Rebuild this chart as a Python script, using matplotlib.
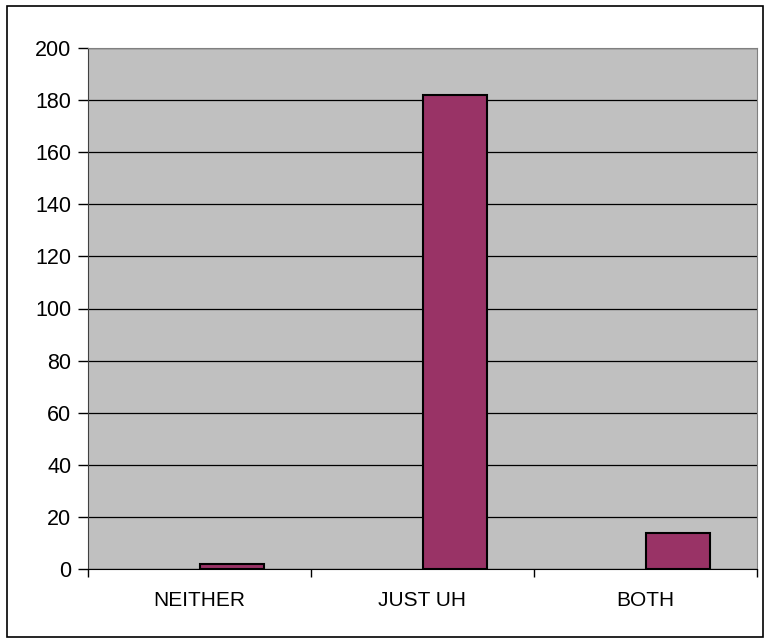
import matplotlib
matplotlib.use("Agg")
import matplotlib.pyplot as plt
from matplotlib.patches import Rectangle
from matplotlib.ticker import MultipleLocator, FixedLocator

categories = ["NEITHER", "JUST UH", "BOTH"]
counts = [2, 182, 14]

plt.rcParams['font.family'] = ['Liberation Sans', 'DejaVu Sans']

fig = plt.figure(figsize=(7.65, 6.43), dpi=100)
ax = fig.add_axes([88/765, 74/643, 669/765, 521/643])

# outer chart frame
fig.patches.append(Rectangle((7/765, 6/643), 756/765, 631/643, transform=fig.transFigure,
                             fill=False, edgecolor='black', linewidth=1.2))

ax.set_facecolor('#C0C0C0')
x = range(len(categories))
ax.bar(x, counts, width=0.287, align='edge', color='#993366',
       edgecolor='black', linewidth=1.5, zorder=3)

ax.set_xlim(-0.5, 2.5)
ax.set_ylim(0, 200)
ax.yaxis.set_major_locator(MultipleLocator(20))
ax.grid(axis='y', color='black', linewidth=0.9, zorder=1)
ax.set_axisbelow(True)

ax.set_xticks(list(x))
ax.set_xticklabels(categories)
ax.xaxis.set_minor_locator(FixedLocator([-0.5, 0.5, 1.5, 2.5]))
ax.tick_params(axis='x', which='major', length=0, pad=16, labelsize=15)
ax.tick_params(axis='x', which='minor', length=6, width=1, color='black', direction='out')
ax.tick_params(axis='y', length=7, width=1, color='black', pad=5, labelsize=15.5)

for side in ['top', 'right']:
    ax.spines[side].set_color('#808080')
ax.spines['left'].set_color('#404040')
ax.spines['bottom'].set_color('black')

fig.savefig('out.png', dpi=100)
